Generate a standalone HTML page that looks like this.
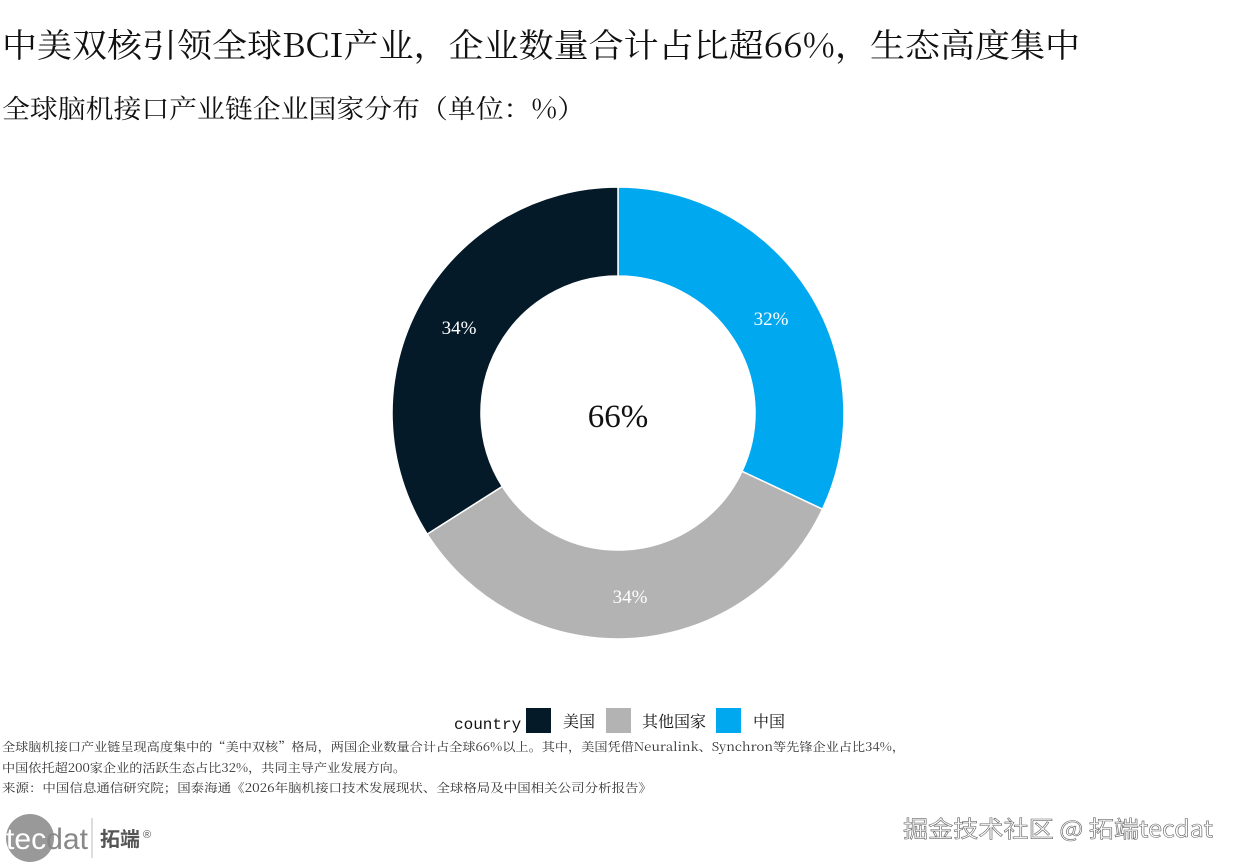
<!DOCTYPE html>
<html><head><meta charset="utf-8"><style>
body{margin:0;width:1237px;height:866px;background:#fff;overflow:hidden;position:relative;font-family:"Liberation Serif","Noto Serif CJK SC",serif;color:#111}
.a{position:absolute;white-space:nowrap}
</style></head><body>
<svg class="a" style="left:0;top:0" width="1237" height="866">
<g font-family="Noto Serif CJK SC,serif" fill="#111">
<text x="2" y="57" font-size="33" textLength="1078" lengthAdjust="spacingAndGlyphs">中美双核引领全球BCI产业，企业数量合计占比超66%，生态高度集中</text>
<text x="2" y="118" font-size="26" textLength="583" lengthAdjust="spacingAndGlyphs">全球脑机接口产业链企业国家分布（单位：%）</text>
<g font-size="12" fill="#333">
<text x="2" y="751" textLength="903" lengthAdjust="spacingAndGlyphs">全球脑机接口产业链呈现高度集中的“美中双核”格局，两国企业数量合计占全球66%以上。其中，美国凭借Neuralink、Synchron等先锋企业占比34%，</text>
<text x="2" y="772" textLength="404" lengthAdjust="spacingAndGlyphs">中国依托超200家企业的活跃生态占比32%，共同主导产业发展方向。</text>
<text x="2" y="792" textLength="650" lengthAdjust="spacingAndGlyphs">来源：中国信息通信研究院；国泰海通《2026年脑机接口技术发展现状、全球格局及中国相关公司分析报告》</text>
</g></g>
<path d="M618 187 A226 226 0 0 1 822.5 509.2 L742 471.3 A137 137 0 0 0 618 276 Z" fill="#00a8f0" stroke="#fff" stroke-width="1.5"/>
<path d="M822.5 509.2 A226 226 0 0 1 427.2 534.1 L502.3 486.4 A137 137 0 0 0 742 471.3 Z" fill="#b3b3b3" stroke="#fff" stroke-width="1.5"/>
<path d="M427.2 534.1 A226 226 0 0 1 618 187 L618 276 A137 137 0 0 0 502.3 486.4 Z" fill="#041a28" stroke="#fff" stroke-width="1.5"/>
<g font-family="Liberation Serif,serif" fill="#fff" font-size="19" text-anchor="middle">
<text x="459" y="334">34%</text><text x="771" y="325">32%</text><text x="630" y="603">34%</text></g>
<text x="618" y="427" font-family="Liberation Serif,serif" font-size="33" text-anchor="middle" fill="#111">66%</text>
<text x="454" y="729" font-family="Liberation Mono,monospace" font-size="16" fill="#111">country</text>
<rect x="526" y="708" width="25" height="25" fill="#041a28"/>
<rect x="606" y="708" width="25" height="25" fill="#b3b3b3"/>
<rect x="716" y="708" width="25" height="25" fill="#00a8f0"/>
<g font-family="Noto Serif CJK SC,serif" font-size="16" fill="#111">
<text x="563" y="727">美国</text><text x="642" y="727">其他国家</text><text x="753" y="727">中国</text></g>
<circle cx="30" cy="838" r="24" fill="#999"/>
<text x="6" y="849" font-family="Liberation Sans,sans-serif" font-size="30" fill="#fff" textLength="82" lengthAdjust="spacingAndGlyphs">tec<tspan fill="#888">dat</tspan></text>
<line x1="92" y1="818" x2="92" y2="858" stroke="#bbb"/>
<text x="100" y="846" font-family="Noto Sans CJK SC,sans-serif" font-weight="bold" font-size="20" fill="#555">拓端</text>
<text x="143" y="838" font-family="Liberation Sans,sans-serif" font-size="11" fill="#555">®</text>
<text x="903" y="837" font-family="Noto Sans CJK SC,sans-serif" font-size="23" fill="#fff" stroke="#666" stroke-width="0.6" textLength="310" lengthAdjust="spacingAndGlyphs">掘金技术社区 @ 拓端tecdat</text>
</svg>
</body></html>
